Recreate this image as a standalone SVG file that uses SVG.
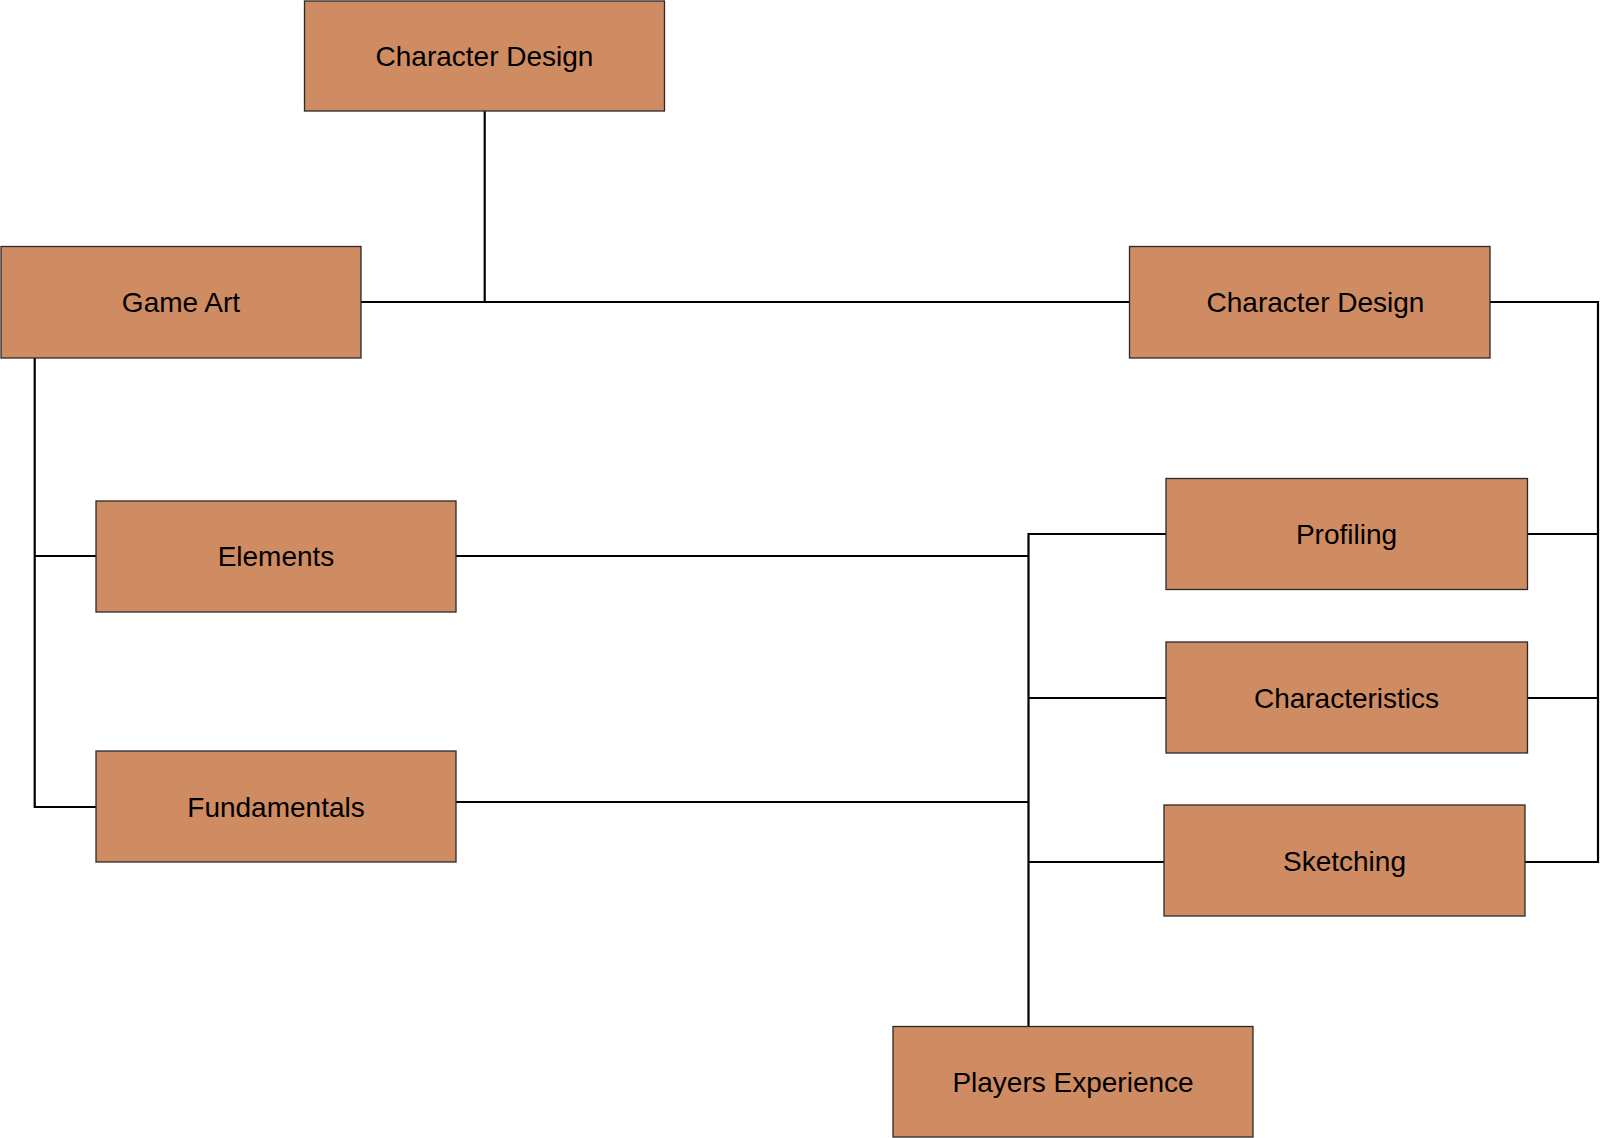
<svg xmlns="http://www.w3.org/2000/svg" width="1600" height="1138" viewBox="0 0 1600 1138">
<style>
.box{fill:#CF8B62;stroke:#2a2a2a;stroke-width:1.3}
.lbl{font-family:"Liberation Sans",Arial,sans-serif;font-size:28px;fill:#000;text-anchor:middle}
.con{fill:none;stroke:#000;stroke-width:2.2}
</style>
<rect width="1600" height="1138" fill="#fff"/>
<g id="connectors">
<path class="con" d="M484.7,111 V302"/>
<path class="con" d="M361,302 H1130"/>
<path class="con" d="M1490,302 H1598 V862 H1525"/>
<path class="con" d="M1527,534 H1598"/>
<path class="con" d="M1527,698 H1598"/>
<path class="con" d="M1166,534 H1028.5 V1026"/>
<path class="con" d="M1166,698 H1028.5"/>
<path class="con" d="M1164,862 H1028.5"/>
<path class="con" d="M456,556 H1028.5"/>
<path class="con" d="M456,802 H1028.5"/>
<path class="con" d="M34.7,358 V807 H96"/>
<path class="con" d="M34.7,556 H96"/>
</g>
<g id="n_top"><rect class="box" x="304.5" y="1" width="360" height="110"/><text class="lbl" x="484.5" y="66">Character Design</text></g>
<g id="n_gameart"><rect class="box" x="1" y="246.5" width="360" height="111.5"/><text class="lbl" x="181" y="312">Game Art</text></g>
<g id="n_chardesign"><rect class="box" x="1129.5" y="246.5" width="360.5" height="111.5"/><text class="lbl" x="1315.5" y="312">Character Design</text></g>
<g id="n_profiling"><rect class="box" x="1166" y="478.5" width="361.5" height="111"/><text class="lbl" x="1346.5" y="544">Profiling</text></g>
<g id="n_characteristics"><rect class="box" x="1166" y="642" width="361.5" height="111"/><text class="lbl" x="1346.5" y="708">Characteristics</text></g>
<g id="n_sketching"><rect class="box" x="1164" y="805" width="361" height="111"/><text class="lbl" x="1344.5" y="871">Sketching</text></g>
<g id="n_elements"><rect class="box" x="96" y="501" width="360" height="111"/><text class="lbl" x="276" y="566">Elements</text></g>
<g id="n_fundamentals"><rect class="box" x="96" y="751" width="360" height="111"/><text class="lbl" x="276" y="817">Fundamentals</text></g>
<g id="n_players"><rect class="box" x="893" y="1026.5" width="360" height="110.5"/><text class="lbl" x="1073" y="1092">Players Experience</text></g>
</svg>
